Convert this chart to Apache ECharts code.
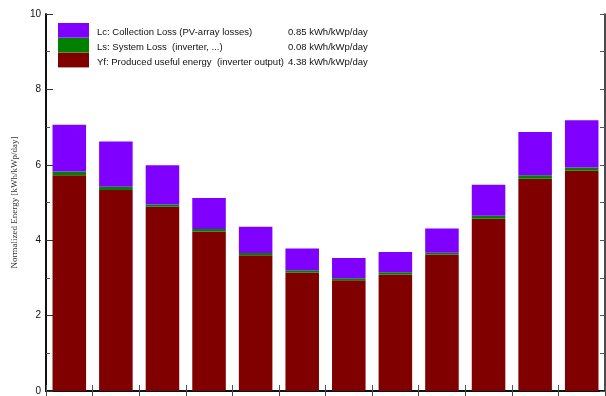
<!DOCTYPE html>
<html>
<head>
<meta charset="utf-8">
<script src="https://cdn.jsdelivr.net/npm/echarts@6/dist/echarts.min.js"></script>
<style>
  html, body { margin: 0; padding: 0; background: #fff; }
  #chart { width: 606px; height: 396px; }
</style>
</head>
<body>
<div id="chart"></div>
<script>
// Monthly normalized production, kWh/kWp/day
const months = ['Jan', 'Feb', 'Mar', 'Apr', 'May', 'Jun', 'Jul', 'Aug', 'Sep', 'Oct', 'Nov', 'Dec'];
const yfValues = [5.72, 5.33, 4.89, 4.23, 3.60, 3.14, 2.94, 3.09, 3.62, 4.57, 5.63, 5.85];
const lsValues = [0.10, 0.09, 0.06, 0.07, 0.06, 0.06, 0.05, 0.06, 0.05, 0.08, 0.09, 0.08];
const lcValues = [1.24, 1.20, 1.04, 0.82, 0.70, 0.58, 0.54, 0.54, 0.64, 0.82, 1.15, 1.25];

const seriesNames = [
  'Lc: Collection Loss (PV-array losses)',
  'Ls: System Loss  (inverter, ...)',
  'Yf: Produced useful energy  (inverter output)'
];
const seriesAverages = ['0.85 kWh/kWp/day', '0.08 kWh/kWp/day', '4.38 kWh/kWp/day'];
const yTicks = [0, 2, 4, 6, 8, 10];
const yTitle = 'Normalized Energy [kWh/kWp/day]';

const colors = { lc: '#8000ff', ls: '#008000', yf: '#800000' };
const axisDark = '#111';
const sansFont = '"Liberation Sans", Arial, sans-serif';
const serifFont = '"Liberation Serif", "DejaVu Serif", serif';

const chart = echarts.init(document.getElementById('chart'), null, { renderer: 'canvas' });

const barCommon = { type: 'bar', stack: 'energy', barWidth: '72%', animation: false };

chart.setOption({
  backgroundColor: '#fff',
  grid: { left: 46, right: 1, top: 14, bottom: 4, containLabel: false },
  legend: {
    left: 58,
    top: 23,
    orient: 'vertical',
    padding: 0,
    itemGap: 0,
    itemWidth: 31,
    itemHeight: 14.7,
    icon: 'rect',
    selectedMode: false,
    data: seriesNames,
    formatter: function (name) {
      const i = seriesNames.indexOf(name);
      return '{n|' + name + '}{v|' + seriesAverages[i] + '}';
    },
    textStyle: {
      fontFamily: sansFont,
      fontSize: 9.5,
      color: '#111',
      rich: {
        n: { width: 191, padding: [5, 0, 0, 3], fontFamily: sansFont, fontSize: 9.5, color: '#111' },
        v: { padding: [5, 0, 0, 0], fontFamily: sansFont, fontSize: 9.5, color: '#111' }
      }
    }
  },
  xAxis: [
    {
      type: 'category',
      data: months,
      position: 'bottom',
      axisLine: { show: true, lineStyle: { color: axisDark, width: 2 } },
      axisTick: { show: true, inside: true, length: 6, lineStyle: { color: '#555', width: 1 } },
      axisLabel: { show: false },
      splitLine: { show: false }
    },
    {
      type: 'category',
      data: months,
      position: 'top',
      axisLine: { show: true, lineStyle: { color: axisDark, width: 2 } },
      axisTick: { show: true, inside: true, length: 6, lineStyle: { color: '#444', width: 1 } },
      axisLabel: { show: false },
      splitLine: { show: false }
    }
  ],
  yAxis: [
    {
      type: 'value',
      min: yTicks[0],
      max: yTicks[yTicks.length - 1],
      interval: yTicks[1] - yTicks[0],
      position: 'left',
      name: yTitle,
      nameLocation: 'middle',
      nameRotate: 90,
      nameGap: 21,
      nameTextStyle: { fontFamily: serifFont, fontSize: 9, color: '#333' },
      axisLine: { show: true, lineStyle: { color: axisDark, width: 2 } },
      axisTick: { show: true, inside: true, length: 7, lineStyle: { color: '#333', width: 1 } },
      minorTick: { show: true, splitNumber: 2, length: 4, lineStyle: { color: '#555', width: 1 } },
      axisLabel: { margin: 5, fontFamily: sansFont, fontSize: 10, color: '#111' },
      splitLine: { show: false }
    },
    {
      type: 'value',
      min: 0,
      max: 10,
      interval: 1,
      position: 'right',
      axisLine: { show: true, lineStyle: { color: axisDark, width: 1.5 } },
      axisTick: { show: true, inside: true, length: 5, lineStyle: { color: '#555', width: 1 } },
      axisLabel: { show: false },
      splitLine: { show: false }
    }
  ],
  series: [
    Object.assign({}, barCommon, {
      name: seriesNames[2],
      data: yfValues,
      itemStyle: { color: colors.yf }
    }),
    Object.assign({}, barCommon, {
      name: seriesNames[1],
      data: lsValues,
      itemStyle: { color: colors.ls }
    }),
    Object.assign({}, barCommon, {
      name: seriesNames[0],
      data: lcValues,
      itemStyle: { color: colors.lc }
    })
  ]
});
</script>
</body>
</html>
